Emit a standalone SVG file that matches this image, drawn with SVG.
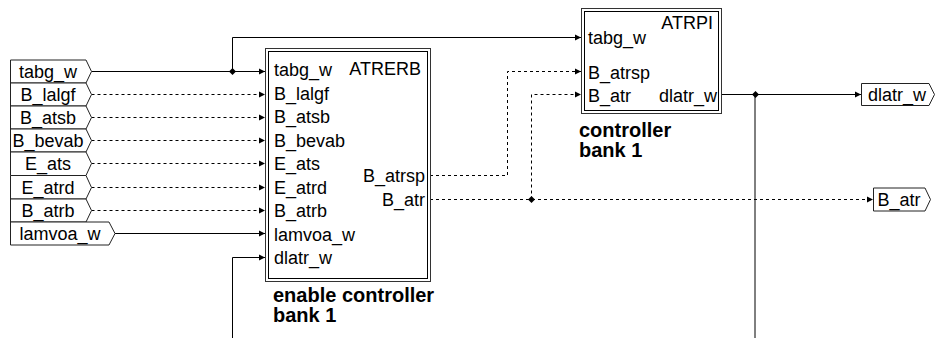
<svg xmlns="http://www.w3.org/2000/svg" width="935" height="338" viewBox="0 0 935 338">
<style>
text{font-family:"Liberation Sans",Arial,sans-serif;font-size:18px;fill:#000}
.b{font-weight:bold;font-size:20px}
.m{text-anchor:middle}
.e{text-anchor:end}
.port{fill:#fff;stroke:#222;stroke-width:1}
.outer{fill:#fff;stroke:#333;stroke-width:1}
.inner{fill:none;stroke:#000;stroke-width:1}
.w{fill:none;stroke:#000;stroke-width:1}
.d{fill:none;stroke:#000;stroke-width:1;stroke-dasharray:3 3}
</style>
<defs>
<marker id="ah" markerWidth="7" markerHeight="7" refX="6" refY="3.5" orient="auto" markerUnits="userSpaceOnUse">
<path d="M0,0.5 L6,3.5 L0,6.5 Z" fill="#000"/>
</marker>
</defs>

<g id="connectors">
<path class="w" d="M91.5,71.5 H265" marker-end="url(#ah)"/>
<path class="w" d="M232.5,71.5 V37.5 H581" marker-end="url(#ah)"/>
<path class="d" d="M91.5,94.5 H265" marker-end="url(#ah)"/>
<path class="d" d="M91.5,117.5 H265" marker-end="url(#ah)"/>
<path class="d" d="M91.5,140.5 H265" marker-end="url(#ah)"/>
<path class="d" d="M91.5,163.5 H265" marker-end="url(#ah)"/>
<path class="d" d="M91.5,187.5 H265" marker-end="url(#ah)"/>
<path class="d" d="M91.5,210.5 H265" marker-end="url(#ah)"/>
<path class="w" d="M115,233.5 H265" marker-end="url(#ah)"/>
<path class="w" d="M232.5,338 V257.5 H265" marker-end="url(#ah)"/>
<path class="d" d="M430,175.5 H507.5 V71.5 H581" marker-end="url(#ah)"/>
<path class="d" d="M430,199.5 H873" marker-end="url(#ah)"/>
<path class="d" d="M531.5,199.5 V94.5 H581" marker-end="url(#ah)"/>
<path class="w" d="M722,94.5 H861" marker-end="url(#ah)"/>
<path class="w" d="M755,94.5 V338"/>
<path d="M232.5,68 L236,71.5 L232.5,75 L229,71.5 Z" fill="#000"/>
<path d="M531.5,196 L535,199.5 L531.5,203 L528,199.5 Z" fill="#000"/>
<path d="M755.5,91 L759,94.5 L755.5,98 L752,94.5 Z" fill="#000"/>
</g>

<g id="in_tabg_w"><path class="port" d="M10.5,60 H86 L91.5,71.5 L86,83 H10.5 Z"/><text class="m" x="48" y="77.5">tabg_w</text></g>
<g id="in_B_lalgf"><path class="port" d="M10.5,83 H86 L91.5,94.5 L86,106 H10.5 Z"/><text class="m" x="48" y="100.5">B_lalgf</text></g>
<g id="in_B_atsb"><path class="port" d="M10.5,106 H86 L91.5,117.5 L86,129 H10.5 Z"/><text class="m" x="48" y="123.5">B_atsb</text></g>
<g id="in_B_bevab"><path class="port" d="M10.5,129 H86 L91.5,140.5 L86,152 H10.5 Z"/><text class="m" x="48" y="146.5">B_bevab</text></g>
<g id="in_E_ats"><path class="port" d="M10.5,152 H86 L91.5,163.5 L86,175.5 H10.5 Z"/><text class="m" x="48" y="169.5">E_ats</text></g>
<g id="in_E_atrd"><path class="port" d="M10.5,175.5 H86 L91.5,187.5 L86,199 H10.5 Z"/><text class="m" x="48" y="193.5">E_atrd</text></g>
<g id="in_B_atrb"><path class="port" d="M10.5,199 H86 L91.5,210.5 L86,222 H10.5 Z"/><text class="m" x="48" y="216.5">B_atrb</text></g>
<g id="in_lamvoa_w"><path class="port" d="M10.5,222 H109 L115,233.5 L109,245 H10.5 Z"/><text class="m" x="60" y="239.5">lamvoa_w</text></g>

<g id="ATRERB">
<rect class="outer" x="265.5" y="48.5" width="165" height="233"/>
<rect class="inner" x="268.5" y="51.5" width="159" height="227"/>
<text class="e" x="421" y="74.5">ATRERB</text>
<text x="274" y="76">tabg_w</text>
<text x="274" y="99.5">B_lalgf</text>
<text x="274" y="123">B_atsb</text>
<text x="274" y="146.5">B_bevab</text>
<text x="274" y="170">E_ats</text>
<text x="274" y="193.5">E_atrd</text>
<text x="274" y="217">B_atrb</text>
<text x="274" y="240.5">lamvoa_w</text>
<text x="274" y="264">dlatr_w</text>
<text class="e" x="425" y="182">B_atrsp</text>
<text class="e" x="425" y="206">B_atr</text>
<text class="b" x="273" y="301.5"><tspan x="273">enable controller</tspan><tspan x="273" dy="20.5">bank 1</tspan></text>
</g>

<g id="ATRPI">
<rect class="outer" x="581.5" y="8.5" width="140" height="105"/>
<rect class="inner" x="584.5" y="11.5" width="134" height="99"/>
<text class="e" x="713" y="28.5">ATRPI</text>
<text x="588" y="43.5">tabg_w</text>
<text x="588" y="78.5">B_atrsp</text>
<text x="588" y="101.5">B_atr</text>
<text class="e" x="717" y="101.5">dlatr_w</text>
<text class="b" x="579" y="137"><tspan x="579">controller</tspan><tspan x="579" dy="20">bank 1</tspan></text>
</g>

<g id="out_dlatr_w"><path class="port" d="M861.5,83.5 H929 L934.5,94.5 L929,105.5 H861.5 Z"/><text class="m" x="897" y="100.5">dlatr_w</text></g>
<g id="out_B_atr"><path class="port" d="M873.5,188 H925 L930.5,199.5 L925,211 H873.5 Z"/><text class="m" x="899" y="205.5">B_atr</text></g>
</svg>
